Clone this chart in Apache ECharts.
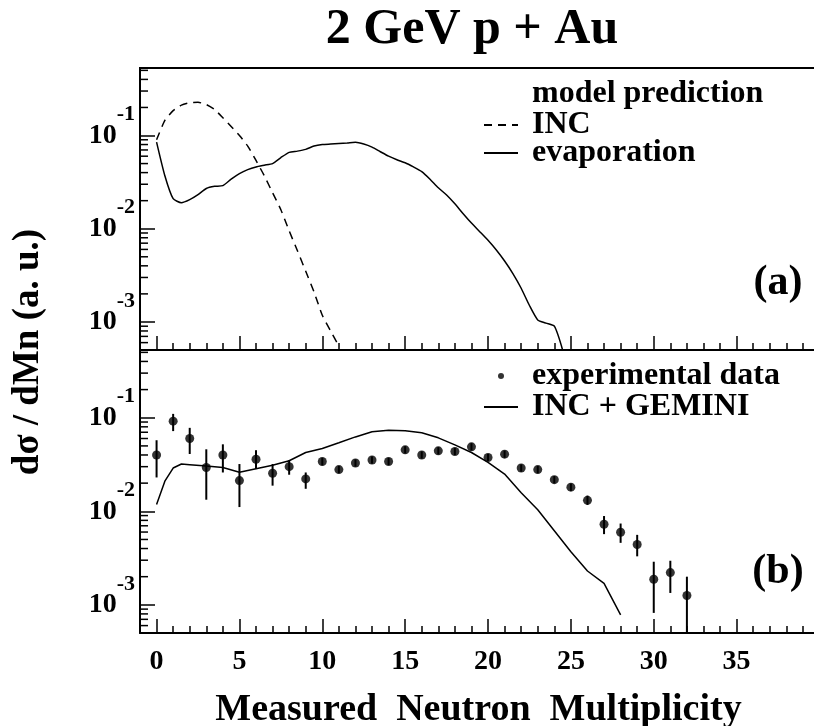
<!DOCTYPE html>
<html>
<head>
<meta charset="utf-8">
<script src="https://cdn.jsdelivr.net/npm/echarts@6/dist/echarts.min.js"></script>
<style>
html, body { margin: 0; padding: 0; background: #fff; }
#chart { width: 814px; height: 726px; }
</style>
</head>
<body>
<div id="chart"></div>
<script>
// panel (a): model prediction
const incX = [0, 0.5, 1, 1.5, 2, 2.5, 3, 3.5, 4, 4.5, 5, 5.5, 6, 6.5, 7, 7.5, 8, 8.5, 9, 9.5, 10, 10.5, 11]
const incY = [0.09, 0.145, 0.185, 0.212, 0.225, 0.227, 0.215, 0.19, 0.155, 0.125, 0.1, 0.077, 0.054, 0.037,
  0.0243, 0.016, 0.0095, 0.0058, 0.0035, 0.0021, 0.00118, 0.0008, 0.00055]

const evapX = [0, 0.5, 1, 1.5, 2, 2.5, 3, 3.5, 4, 4.5, 5, 5.5, 6, 6.5, 7, 7.5, 8, 8.5, 9, 9.5, 10, 10.5, 11, 11.5,
  12, 12.5, 13, 13.5, 14, 14.5, 15, 15.5, 16, 16.5, 17, 17.5, 18, 18.5, 19, 19.5, 20, 20.5, 21, 21.5, 22, 22.5,
  23, 23.5, 24, 24.5]
const evapY = [0.085, 0.037, 0.021, 0.019, 0.0205, 0.0232, 0.027, 0.0285, 0.029, 0.034, 0.039, 0.043, 0.046, 0.048,
  0.05, 0.058, 0.066, 0.068, 0.071, 0.077, 0.08, 0.081, 0.082, 0.083, 0.0845, 0.081, 0.075, 0.067, 0.06, 0.055,
  0.051, 0.046, 0.041, 0.034, 0.0275, 0.023, 0.0185, 0.0145, 0.0115, 0.0093, 0.0075, 0.0059, 0.0045, 0.0033,
  0.0023, 0.0015, 0.00105, 0.00097, 0.0009, 0.0005]

// panel (b): data vs INC + GEMINI
const gemX = [0, 0.5, 1, 1.5, 2, 3, 4, 5, 6, 7, 8, 9, 10, 11, 12, 13, 14, 15, 16, 17, 18, 19, 20, 21, 22, 23, 24,
  25, 26, 27, 28]
const gemY = [0.0118, 0.021, 0.029, 0.032, 0.0315, 0.0305, 0.0294, 0.0262, 0.0285, 0.031, 0.0347, 0.0425, 0.047,
  0.054, 0.0624, 0.071, 0.0734, 0.0725, 0.069, 0.061, 0.0513, 0.0425, 0.0333, 0.025, 0.0158, 0.0104, 0.0062,
  0.0037, 0.0023, 0.0017, 0.00078]

const expX = [0, 1, 2, 3, 4, 5, 6, 7, 8, 9, 10, 11, 12, 13, 14, 15, 16, 17, 18, 19, 20, 21, 22, 23, 24, 25, 26,
  27, 28, 29, 30, 31, 32]
const expY = [0.04, 0.092, 0.06, 0.0294, 0.04, 0.0213, 0.036, 0.0255, 0.03, 0.0222, 0.0341, 0.0279, 0.0328,
  0.0353, 0.0341, 0.0454, 0.04, 0.0443, 0.0436, 0.0489, 0.0376, 0.0408, 0.029, 0.0279, 0.0218, 0.0181, 0.0131,
  0.00727, 0.00597, 0.00442, 0.00188, 0.00221, 0.00126]
const expLo = [0.023, 0.072, 0.041, 0.0133, 0.026, 0.0111, 0.0283, 0.0188, 0.0246, 0.0174, 0.031, 0.0255, 0.03,
  0.0323, 0.0312, 0.0415, 0.0366, 0.0405, 0.0399, 0.0447, 0.0344, 0.0373, 0.0265, 0.0255, 0.0199, 0.0165, 0.0117,
  0.0057, 0.0046, 0.0033, 0.00082, 0.00134, 0.0005]
const expHi = [0.0575, 0.11, 0.078, 0.046, 0.052, 0.032, 0.045, 0.032, 0.0353, 0.026, 0.0373, 0.0305, 0.0359,
  0.0386, 0.0373, 0.0497, 0.0437, 0.0485, 0.0477, 0.0535, 0.0411, 0.0446, 0.0317, 0.0305, 0.0238, 0.0198, 0.0147,
  0.0089, 0.0074, 0.0056, 0.00289, 0.00296, 0.002]

const X_MIN = -1
const X_MAX = 39.85
const Y_MIN = 5e-4
const Y_MAX = 0.53

const FONT = 'Liberation Serif'

// minor log ticks 2..9 x 10^n inside the y range
const minorVals = []
for (let e = -4; e <= -1; e++) {
  for (let m = 2; m <= 9; m++) {
    const v = m * Math.pow(10, e)
    if (v > Y_MIN && v < Y_MAX) minorVals.push([X_MIN, v])
  }
}

const zip = (xs, ys) => xs.map((x, i) => [x, ys[i]])

function minorTickItem(params, api) {
  const p = api.coord([api.value(0), api.value(1)])
  return {
    type: 'line',
    shape: { x1: p[0], y1: p[1], x2: p[0] + 8, y2: p[1] },
    style: { stroke: '#000', lineWidth: 1.5 }
  }
}

function errorBarItem(params, api) {
  const lo = api.coord([api.value(0), api.value(1)])
  const hi = api.coord([api.value(0), api.value(2)])
  return {
    type: 'line',
    shape: { x1: lo[0], y1: lo[1], x2: hi[0], y2: hi[1] },
    style: { stroke: '#000', lineWidth: 2 }
  }
}

function xAxisOf(gridIndex, showLabels) {
  return {
    type: 'value',
    gridIndex: gridIndex,
    min: X_MIN,
    max: X_MAX,
    splitNumber: 8,
    axisLine: { onZero: false, lineStyle: { color: '#000', width: 2 } },
    axisTick: { inside: true, length: 14, lineStyle: { color: '#000', width: 1.5 } },
    minorTick: { show: true, splitNumber: 5, length: 7, lineStyle: { color: '#000', width: 1.5 } },
    splitLine: { show: false },
    axisLabel: {
      show: showLabels,
      showMinLabel: false,
      showMaxLabel: false,
      margin: 15,
      color: '#000',
      fontFamily: FONT,
      fontWeight: 'bold',
      fontSize: 28
    }
  }
}

function yAxisOf(gridIndex) {
  return {
    type: 'log',
    logBase: 10,
    gridIndex: gridIndex,
    min: Y_MIN,
    max: Y_MAX,
    axisLine: { show: true, onZero: false, lineStyle: { color: '#000', width: 2 } },
    axisTick: { inside: true, length: 15, lineStyle: { color: '#000', width: 1.5 } },
    splitLine: { show: false },
    axisLabel: {
      showMinLabel: false,
      showMaxLabel: false,
      margin: 5,
      formatter: function (v) {
        return '{b|10}{s|' + Math.round(Math.log10(v)) + '}'
      },
      rich: {
        b: { fontFamily: FONT, fontWeight: 'bold', fontSize: 28, color: '#000' },
        s: { fontFamily: FONT, fontWeight: 'bold', fontSize: 22, color: '#000', padding: [0, 0, 42, 0] }
      }
    }
  }
}

const legendText = {
  fontFamily: FONT,
  fontWeight: 'bold',
  fontSize: 32,
  color: '#000',
  lineHeight: 28,
  padding: [0, 0, 0, 9]
}

const hiddenDot = { opacity: 0 }

const chart = echarts.init(document.getElementById('chart'))

chart.setOption({
  backgroundColor: '#fff',
  animation: false,
  grid: [
    { left: 140, top: 68, width: 677, height: 282, show: true, borderColor: '#000', borderWidth: 2, outerBoundsMode: 'none' },
    { left: 140, top: 350, width: 677, height: 283, show: false, outerBoundsMode: 'none' }
  ],
  xAxis: [
    xAxisOf(0, false),
    Object.assign(xAxisOf(1, true), {
      name: 'Measured  Neutron  Multiplicity',
      nameLocation: 'middle',
      nameGap: 58,
      nameTextStyle: { fontFamily: FONT, fontWeight: 'bold', fontSize: 38, color: '#000' }
    })
  ],
  yAxis: [yAxisOf(0), yAxisOf(1)],
  legend: [
    {
      orient: 'vertical',
      left: 478,
      top: 104,
      itemWidth: 34,
      itemHeight: 6,
      itemGap: -4,
      selectedMode: false,
      data: [
        { name: 'INC', itemStyle: hiddenDot },
        { name: 'evaporation', itemStyle: hiddenDot }
      ],
      textStyle: legendText
    },
    {
      orient: 'vertical',
      left: 478,
      top: 355,
      itemWidth: 34,
      itemHeight: 6,
      itemGap: -1,
      selectedMode: false,
      data: [
        { name: 'experimental data', icon: 'circle' },
        { name: 'INC + GEMINI', itemStyle: hiddenDot }
      ],
      textStyle: legendText
    }
  ],
  graphic: [
    {
      type: 'text', x: 472, y: 30,
      style: { text: '2 GeV p + Au', font: 'bold 50px "Liberation Serif"', fill: '#000', align: 'center', verticalAlign: 'middle' }
    },
    {
      type: 'text', x: 532, y: 94,
      style: { text: 'model prediction', font: 'bold 32px "Liberation Serif"', fill: '#000', align: 'left', verticalAlign: 'middle' }
    },
    {
      type: 'text', x: 778, y: 283,
      style: { text: '(a)', font: 'bold 42px "Liberation Serif"', fill: '#000', align: 'center', verticalAlign: 'middle' }
    },
    {
      type: 'text', x: 778, y: 572,
      style: { text: '(b)', font: 'bold 42px "Liberation Serif"', fill: '#000', align: 'center', verticalAlign: 'middle' }
    },
    {
      type: 'text', x: 28, y: 352, rotation: Math.PI / 2,
      style: { text: 'd\u03c3 / dMn (a. u.)', font: 'bold 37px "Liberation Serif"', fill: '#000', align: 'center', verticalAlign: 'middle' }
    }
  ],
  series: [
    {
      name: 'INC',
      type: 'line',
      xAxisIndex: 0,
      yAxisIndex: 0,
      data: zip(incX, incY),
      symbol: 'none',
      smooth: 0.2,
      lineStyle: { color: '#000', width: 1.5, type: [8, 6] },
      itemStyle: { color: '#000' }
    },
    {
      name: 'evaporation',
      type: 'line',
      xAxisIndex: 0,
      yAxisIndex: 0,
      data: zip(evapX, evapY),
      symbol: 'none',
      smooth: 0.2,
      lineStyle: { color: '#000', width: 1.5 },
      itemStyle: { color: '#000' }
    },
    {
      name: 'minor ticks a',
      type: 'custom',
      xAxisIndex: 0,
      yAxisIndex: 0,
      data: minorVals,
      renderItem: minorTickItem,
      silent: true
    },
    {
      name: 'minor ticks b',
      type: 'custom',
      xAxisIndex: 1,
      yAxisIndex: 1,
      data: minorVals,
      renderItem: minorTickItem,
      silent: true
    },
    {
      name: 'INC + GEMINI',
      type: 'line',
      xAxisIndex: 1,
      yAxisIndex: 1,
      data: zip(gemX, gemY),
      symbol: 'none',
      lineStyle: { color: '#000', width: 1.5 },
      itemStyle: { color: '#000' }
    },
    {
      name: 'error bars',
      type: 'custom',
      xAxisIndex: 1,
      yAxisIndex: 1,
      data: expX.map((x, i) => [x, expLo[i], expHi[i]]),
      encode: { x: 0, y: [1, 2] },
      renderItem: errorBarItem,
      clip: true,
      silent: true
    },
    {
      name: 'experimental data',
      type: 'scatter',
      xAxisIndex: 1,
      yAxisIndex: 1,
      data: zip(expX, expY),
      symbol: 'circle',
      symbolSize: 9,
      itemStyle: { color: '#000' }
    }
  ]
})
</script>
</body>
</html>
